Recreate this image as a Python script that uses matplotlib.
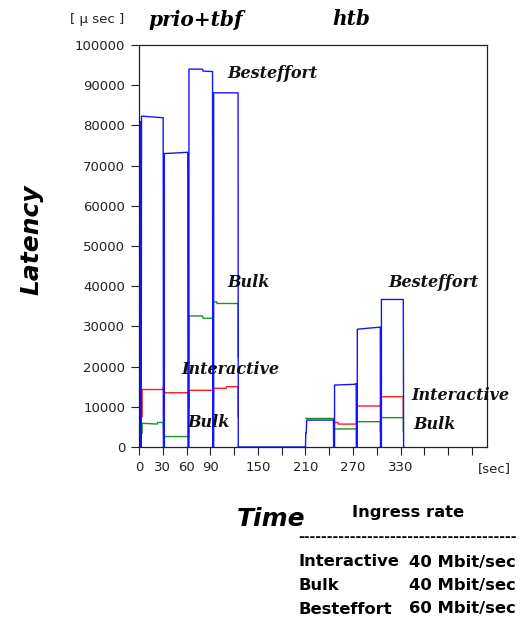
import matplotlib
matplotlib.use("Agg")
import matplotlib.pyplot as plt
import numpy as np

W, H = 523, 617

# latency [usec] over time [sec]; None = gap between runs
besteffort = [(0, 0), (0, 78400), (0.4, 0), (0.8, 79000), (1.2, 0), (1.6, 79800),
              (2.0, 0), (2.4, 81000), (2.8, 0), (3.2, 82300), (30.5, 81900),
              (30.8, 0), (32.0, 0), (32.0, 73000), (61.5, 73300), (61.8, 0),
              (63.0, 0), (63.0, 94000), (80, 94000), (81, 93500), (92.8, 93400),
              (93.0, 0), (94.2, 0), (94.2, 88100), (125, 88100), (125.2, 0),
              (210, 0), (210.4, 3500), (211, 3500), (211.6, 6700), (245.3, 6700),
              (245.5, 0), (246.7, 0), (246.7, 15400), (272, 15600), (274, 15800),
              (274.2, 0), (275.4, 0), (275.4, 29300), (303, 29800), (304.4, 29800),
              (304.6, 0), (305.8, 0), (305.8, 36700), (333.4, 36700), (333.8, 0)]

interactive = [(4, 7500), (4, 14300), (30, 14300), (30.4, 14750), (31, 14750),
               (31, 7500), (31.4, 13500), (62.5, 13500), (62.8, 9900), (63.2, 14100),
               (93.6, 14100), (93.8, 9900), (94.2, 14600), (110, 14600), (110.4, 15000),
               (125, 15000), (125, 7500), None,
               (245.6, 6100), (251, 6100), (251.4, 5700), (274.5, 5700), (274.8, 10200),
               (303, 10200), (304, 10400), (305.2, 10400), (305.4, 12500),
               (333.4, 12500), (333.4, 7500)]

bulk = [(4, 3400), (4, 5900), (23, 5700), (23.4, 6100), (30.6, 6100), (31, 2600),
        (62.5, 2600), (62.6, 2400), (63, 32600), (80, 32600), (81, 32000), (93, 32000),
        (93, 22500), (93.6, 36100), (98, 36100), (98.4, 35700), (125, 35700),
        (125, 22500), None,
        (210.5, 7100), (245.5, 7100), (245.8, 4500), (274.5, 4500), (274.5, 2200),
        (274.8, 6300), (304.6, 6300), (304.6, 3800), (305, 7300), (333.4, 7300),
        (333.4, 3800)]

xticks = list(range(0, 421, 30))
xtick_labels = ['0', '30', '60', '90', '', '150', '', '210', '', '270', '', '330', '', '', '']
yticks = list(range(0, 100001, 10000))

# series labels placed next to the curves (t, latency)
curve_labels = [('Besteffort', 112, 93000), ('Bulk', 111, 40800),
                ('Interactive', 54, 19400), ('Bulk', 60.5, 6200),
                ('Besteffort', 314, 40800), ('Interactive', 344, 12700),
                ('Bulk', 345.5, 5500)]

rates = [('Interactive', '40 Mbit/sec'), ('Bulk', '40 Mbit/sec'), ('Besteffort', '60 Mbit/sec')]


def unzip(pts):
    t = [np.nan if p is None else p[0] for p in pts]
    v = [np.nan if p is None else p[1] for p in pts]
    return t, v


fig = plt.figure(figsize=(W / 100, H / 100), dpi=100)
ax = fig.add_axes([139 / W, 1 - 447 / H, (487 - 139) / W, (447 - 45) / H])

t, v = unzip(bulk)
ax.plot(t, v, color='#1f8f1f', lw=1.0)
t, v = unzip(interactive)
ax.plot(t, v, color='#ff1a1a', lw=1.0)
t, v = unzip(besteffort)
ax.plot(t, v, color='#1414ff', lw=1.0)

ax.set_xlim(0, 439)
ax.set_ylim(0, 100000)
ax.set_xticks(xticks)
ax.set_xticklabels(xtick_labels)
ax.set_yticks(yticks)
ax.set_yticklabels([str(y) for y in yticks])
ax.tick_params(direction='out', length=6, width=0.8, color='#222222',
               labelsize=9.5, labelcolor='#222222', pad=4)
for s in ax.spines.values():
    s.set_color('#222222')
    s.set_linewidth(0.9)

serif = dict(family='DejaVu Serif', weight='bold', style='italic')
for name, x, y in curve_labels:
    ax.text(x, y, name, fontsize=11.5, va='center', ha='left', color='#111111', **serif)

def px(x, y):
    return x / W, 1 - y / H

fig.text(*px(70, 19), '[ \u03bc sec ]', fontsize=9.5, va='center', ha='left', color='#222222')
fig.text(*px(196, 20), 'prio+tbf', fontsize=14.5, va='center', ha='center', **serif)
fig.text(*px(351, 19), 'htb', fontsize=14.5, va='center', ha='center', **serif)
fig.text(*px(478, 469), '[sec]', fontsize=9.5, va='center', ha='left', color='#222222')

bold_it = dict(family='DejaVu Sans', weight='bold', style='italic')
fig.text(*px(31, 240), 'Latency', fontsize=18, rotation=90, va='center', ha='center', **bold_it)
fig.text(*px(271, 519), 'Time', fontsize=18, va='center', ha='center', **bold_it)

bold = dict(family='DejaVu Sans', weight='bold')
fig.text(*px(352, 513), 'Ingress rate', fontsize=11.8, va='center', ha='left', **bold)
fig.text(*px(298, 537), '-' * 38, fontsize=10, va='center', ha='left', **bold)
for i, (name, rate) in enumerate(rates):
    y = 562 + i * 23.5
    fig.text(*px(299, y), name, fontsize=11.8, va='center', ha='left', **bold)
    fig.text(*px(516, y), rate, fontsize=11.8, va='center', ha='right', **bold)

fig.savefig('out.png', dpi=100)
